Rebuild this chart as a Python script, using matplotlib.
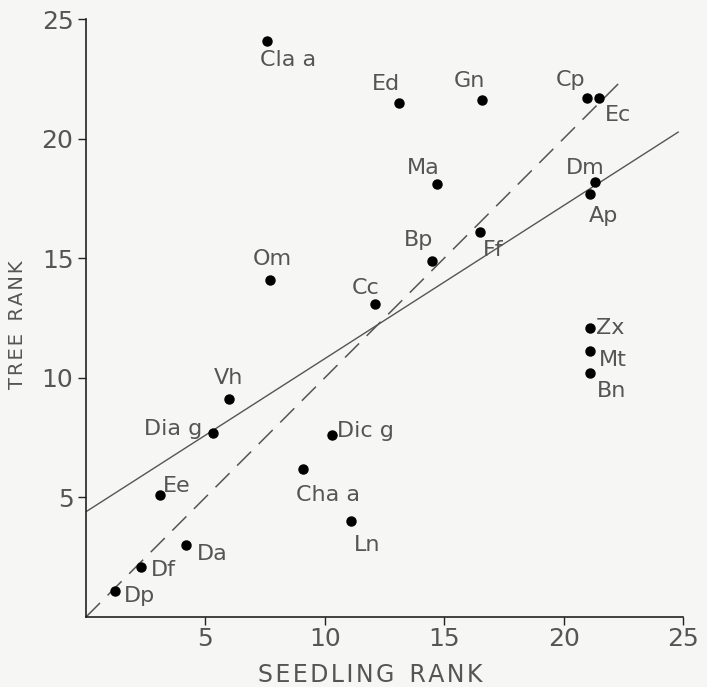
import matplotlib
matplotlib.use('Agg')
import matplotlib.pyplot as plt
import numpy as np

plt.rcParams.update({'font.size': 14, 'font.family': 'DejaVu Sans'})

# species codes, seedling rank, tree rank
species = ['Cla a', 'Om', 'Ed', 'Gn', 'Cp', 'Ec', 'Ma', 'Dm', 'Ap', 'Ff', 'Bp', 'Cc',
           'Zx', 'Mt', 'Bn', 'Vh', 'Dia g', 'Dic g', 'Cha a', 'Ee', 'Ln', 'Da', 'Df', 'Dp']
seedling_rank = [7.6, 7.7, 13.1, 16.6, 21.0, 21.5, 14.7, 21.3, 21.1, 16.5, 14.5, 12.1,
                 21.1, 21.1, 21.1, 6.0, 5.3, 10.3, 9.1, 3.1, 11.1, 4.2, 2.3, 1.2]
tree_rank = [24.1, 14.1, 21.5, 21.6, 21.7, 21.7, 18.1, 18.2, 17.7, 16.1, 14.9, 13.1,
             12.1, 11.1, 10.2, 9.1, 7.7, 7.6, 6.2, 5.1, 4.0, 3.0, 2.1, 1.1]

# regression line (solid) and 1:1 line (dashed)
reg_intercept = 4.4
reg_slope = 0.64
reg_xmax = 24.8
equal_xmax = 22.5

# label offsets in pixels (dx, dy) with alignment
label_pos = {
    'Cla a': (21, -9, 'center', 'top'),
    'Om': (2, 11, 'center', 'bottom'),
    'Ed': (-13, 9, 'center', 'bottom'),
    'Gn': (-13, 9, 'center', 'bottom'),
    'Cp': (-2, 8, 'right', 'bottom'),
    'Ec': (5, -7, 'left', 'top'),
    'Ma': (-14, 6, 'center', 'bottom'),
    'Dm': (-9, 4, 'center', 'bottom'),
    'Ap': (14, -12, 'center', 'top'),
    'Ff': (3, -8, 'left', 'top'),
    'Bp': (-14, 11, 'center', 'bottom'),
    'Cc': (-9, 6, 'center', 'bottom'),
    'Zx': (6, 0, 'left', 'center'),
    'Mt': (9, -9, 'left', 'center'),
    'Bn': (7, -18, 'left', 'center'),
    'Vh': (-1, 11, 'center', 'bottom'),
    'Dia g': (-10, 4, 'right', 'center'),
    'Dic g': (5, 4, 'left', 'center'),
    'Cha a': (-7, -16, 'left', 'top'),
    'Ee': (3, 9, 'left', 'center'),
    'Ln': (3, -14, 'left', 'top'),
    'Da': (11, -9, 'left', 'center'),
    'Df': (10, -3, 'left', 'center'),
    'Dp': (9, -5, 'left', 'center'),
}

grey = '#555555'

fig = plt.figure(figsize=(7.07, 6.87), dpi=100)
fig.patch.set_facecolor('#f6f6f4')
ax = fig.add_axes([0.1216, 0.1019, 0.8444, 0.8704])
ax.set_facecolor('#f6f6f4')

xs = np.array([0, reg_xmax])
ax.plot(xs, reg_intercept + reg_slope * xs, color=grey, lw=1.0)
ax.plot([0, equal_xmax], [0, equal_xmax], color=grey, lw=1.1, dashes=(13, 7))

ax.plot(seedling_rank, tree_rank, 'o', color='black', ms=6.5, zorder=3)

for name, x, y in zip(species, seedling_rank, tree_rank):
    dx, dy, ha, va = label_pos[name]
    ax.annotate(name, (x, y), xytext=(dx * 0.72, dy * 0.72), textcoords='offset points',
                ha=ha, va=va, color=grey, fontsize=16)

ax.set_xlim(0, 25)
ax.set_ylim(0, 25)
ax.set_xticks([5, 10, 15, 20, 25])
ax.set_yticks([5, 10, 15, 20, 25])
ax.tick_params(direction='out', length=6, width=1, colors='#222222', labelcolor=grey,
               labelsize=18)
ax.tick_params(axis='x', pad=1)
ax.tick_params(axis='y', pad=3)
for side in ['top', 'right']:
    ax.spines[side].set_visible(False)
for side in ['left', 'bottom']:
    ax.spines[side].set_color('#222222')
    ax.spines[side].set_linewidth(1.2)

ax.set_xlabel('S\u200aE\u200aE\u200aD\u200aL\u200aI\u200aN\u200aG  R\u200aA\u200aN\u200aK',
              color=grey, fontsize=17)
ax.set_ylabel('T\u200aR\u200aE\u200aE  R\u200aA\u200aN\u200aK', color=grey, fontsize=14)
ax.xaxis.set_label_coords((370 - 86) / 597, -(675 - 617) / 598)
ax.yaxis.set_label_coords(-(86 - 18) / 597, (617 - 325) / 598)
ax.xaxis.label.set_va('center')
ax.yaxis.label.set_va('center')

plt.savefig('out.png', dpi=100, facecolor=fig.get_facecolor())
